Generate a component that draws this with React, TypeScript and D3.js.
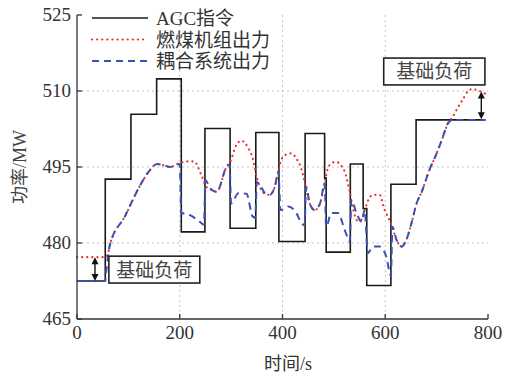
import React from 'react';
import * as d3 from 'd3';

// AGC command (step, value holds until next time)
const agcTime = [0, 55, 105, 155, 203, 249, 298, 348, 393, 444, 482, 485, 532, 557, 564, 611, 660, 795];
const agcValue = [472.5, 492.6, 505.4, 512.4, 482.2, 502.6, 482.9, 501.8, 480.3, 501.6, 492.8, 478.2, 495.6, 486.8, 471.6, 491.6, 504.3, 504.3];

// coal-fired unit output
const coalTime = [0, 55, 60, 64, 93, 123, 142, 156, 170, 181, 200, 215, 228, 242, 251, 259, 272, 291, 298, 310, 320, 332, 342, 350, 362, 375, 385, 392, 398, 408, 418, 428, 434, 444, 453, 463, 474, 482, 488, 496, 505, 514, 521, 530, 538, 546, 554, 560, 567, 576, 589, 599, 606, 612, 622, 632, 641, 651, 661, 671, 687, 696, 710, 722, 732, 739, 752, 761, 770, 778, 794];
const coalValue = [477.2, 477.2, 477.8, 479.6, 485.2, 491.4, 494.4, 495.6, 495.3, 495, 495.8, 496.1, 496.1, 493.4, 491.2, 490.6, 490.1, 495, 496, 499.3, 500.2, 499, 496.7, 493, 490, 489.5, 491.1, 494.1, 496.5, 497.5, 497.7, 496.5, 495.4, 491.8, 487.8, 486.5, 488.1, 491.8, 494.6, 495.8, 496, 495.3, 494.1, 490.5, 486.5, 484.4, 484.6, 486.5, 488.5, 489.5, 489.5, 486.5, 485, 483.6, 480.6, 479.3, 480.6, 483.9, 487.8, 490.1, 494.7, 496.7, 500.3, 503.6, 505, 506.3, 508.5, 510, 510.4, 510.2, 509.5];

// coupled system output
const coupledTime = [0, 55, 57, 64, 93, 123, 142, 156, 170, 181, 200, 203, 220, 239, 247, 250, 259, 272, 291, 297, 300, 314, 330, 342, 347, 350, 356, 366, 375, 385, 392, 396, 405, 411, 427, 437, 443, 446, 453, 463, 474, 482, 485, 495, 508, 521, 529, 531, 534, 544, 554, 560, 566, 576, 589, 602, 609, 611, 614, 622, 632, 641, 651, 661, 671, 687, 696, 710, 722, 732, 795];
const coupledValue = [472.5, 472.5, 474.5, 479.6, 485.2, 491.4, 494.4, 495.6, 495.3, 495, 495.6, 486, 485.5, 484.2, 483.6, 492.4, 490.8, 490.1, 495, 495.5, 487.8, 489.8, 489.7, 485.2, 485, 492, 491.5, 489.8, 489.5, 491.1, 494.1, 486.5, 486.8, 487.2, 485.9, 483.9, 483.5, 491.1, 487.8, 486.5, 488.1, 491.8, 483.2, 485.9, 485.9, 482.6, 480.6, 480.3, 488.5, 485.9, 484.2, 486.5, 478, 479.3, 479.3, 477.3, 474, 473.5, 483.2, 480.6, 479.3, 480.6, 483.9, 487.8, 490.1, 494.7, 496.7, 500.3, 503.6, 504.3, 504.3];

const xTicks = [0, 200, 400, 600, 800];
const yTicks = [465, 480, 495, 510, 525];
const legendLabels = ['AGC指令', '燃煤机组出力', '耦合系统出力'];

const W = 510;
const H = 376;
const serif = '"Liberation Serif", "Times New Roman", "Noto Sans CJK SC", serif';

export default function App() {
  const x = d3.scaleLinear().domain([0, 800]).range([77, 488]);
  const y = d3.scaleLinear().domain([465, 525]).range([319, 15]);

  const pts = (ts: number[], vs: number[]) => ts.map((t, i) => [t, vs[i]] as [number, number]);

  const stepLine = d3.line<[number, number]>()
    .x((d) => x(d[0]))
    .y((d) => y(d[1]))
    .curve(d3.curveStepAfter);
  const smoothLine = d3.line<[number, number]>()
    .x((d) => x(d[0]))
    .y((d) => y(d[1]))
    .curve(d3.curveMonotoneX);

  const agcPath = stepLine(pts(agcTime, agcValue)) || '';
  const coalPath = smoothLine(pts(coalTime, coalValue)) || '';
  const coupledPath = smoothLine(pts(coupledTime, coupledValue)) || '';

  const styles = [
    { stroke: '#1a1a1a', width: 1.6, dash: undefined as string | undefined },
    { stroke: '#e8302a', width: 2.2, dash: '0.1,5' },
    { stroke: '#3a52b4', width: 2, dash: '7,5' },
  ];

  const arrow = (t: number, v1: number, v2: number) => {
    const xa = x(t);
    const ya = y(v1);
    const yb = y(v2);
    return (
      <g>
        <line x1={xa} x2={xa} y1={ya + 4} y2={yb - 4} stroke="#111" strokeWidth={1.4} />
        <path d={`M${xa},${ya} L${xa - 3.5},${ya + 7} L${xa + 3.5},${ya + 7} Z`} fill="#111" />
        <path d={`M${xa},${yb} L${xa - 3.5},${yb - 7} L${xa + 3.5},${yb - 7} Z`} fill="#111" />
      </g>
    );
  };

  const box = (t0: number, t1: number, v0: number, v1: number) => (
    <g>
      <rect x={x(t0)} y={y(v1)} width={x(t1) - x(t0)} height={y(v0) - y(v1)}
        fill="#fff" stroke="#222" strokeWidth={1.6} />
      <text x={(x(t0) + x(t1)) / 2} y={(y(v0) + y(v1)) / 2 + 7} textAnchor="middle"
        fontSize={19} fill="#444" fontFamily={serif}>基础负荷</text>
    </g>
  );

  return (
    <svg width={W} height={H} style={{ position: 'fixed', left: 0, top: 0, background: '#fff' }}>
      {/* grid */}
      {yTicks.slice(1, -1).map((v) => (
        <line key={'gy' + v} x1={x(0)} x2={x(800)} y1={y(v)} y2={y(v)}
          stroke="#bdbdbd" strokeWidth={0.9} strokeDasharray="2,3" />
      ))}
      {xTicks.slice(1, -1).map((t) => (
        <line key={'gx' + t} x1={x(t)} x2={x(t)} y1={y(525)} y2={y(465)}
          stroke="#bdbdbd" strokeWidth={0.9} strokeDasharray="2,3" />
      ))}

      {/* series */}
      <path d={agcPath} fill="none" stroke={styles[0].stroke} strokeWidth={styles[0].width} />
      <path d={coalPath} fill="none" stroke={styles[1].stroke} strokeWidth={styles[1].width}
        strokeDasharray={styles[1].dash} strokeLinecap="round" />
      <path d={coupledPath} fill="none" stroke={styles[2].stroke} strokeWidth={styles[2].width}
        strokeDasharray={styles[2].dash} />

      {/* axes */}
      <line x1={x(0)} x2={x(0)} y1={y(525)} y2={y(465)} stroke="#333" strokeWidth={1.3} />
      <line x1={x(0)} x2={x(800)} y1={y(465)} y2={y(465)} stroke="#333" strokeWidth={1.3} />
      {yTicks.map((v) => (
        <g key={'ty' + v}>
          <line x1={x(0)} x2={x(0) + 5} y1={y(v)} y2={y(v)} stroke="#333" strokeWidth={1.3} />
          <text x={x(0) - 6} y={y(v) + 6} textAnchor="end" fontSize={19} fill="#333" fontFamily={serif}>{v}</text>
        </g>
      ))}
      {xTicks.map((t) => (
        <g key={'tx' + t}>
          <line x1={x(t)} x2={x(t)} y1={y(465)} y2={y(465) - 5} stroke="#333" strokeWidth={1.3} />
          <text x={x(t)} y={y(465) + 20} textAnchor="middle" fontSize={19} fill="#333" fontFamily={serif}>{t}</text>
        </g>
      ))}
      <text x={288} y={370} textAnchor="middle" fontSize={18} fill="#333" fontFamily={serif}>时间/s</text>
      <text transform={`translate(26,${y(495)}) rotate(-90)`} textAnchor="middle" fontSize={18}
        fill="#444" fontFamily={serif}>功率/MW</text>

      {/* legend */}
      {legendLabels.map((label, i) => {
        const ly = 18 + i * 21.5;
        const s = styles[i];
        return (
          <g key={label}>
            <line x1={92} x2={148} y1={ly} y2={ly} stroke={s.stroke} strokeWidth={s.width}
              strokeDasharray={s.dash} strokeLinecap={i === 1 ? 'round' : 'butt'} />
            <text x={156} y={ly + 7} fontSize={19} fill="#333" fontFamily={serif}>{label}</text>
          </g>
        );
      })}

      {/* annotations */}
      {arrow(35, 477.2, 472.5)}
      {box(62, 239, 472.1, 477.4)}
      {arrow(787, 509.9, 504.4)}
      {box(597, 794, 511.2, 516.5)}
    </svg>
  );
}
